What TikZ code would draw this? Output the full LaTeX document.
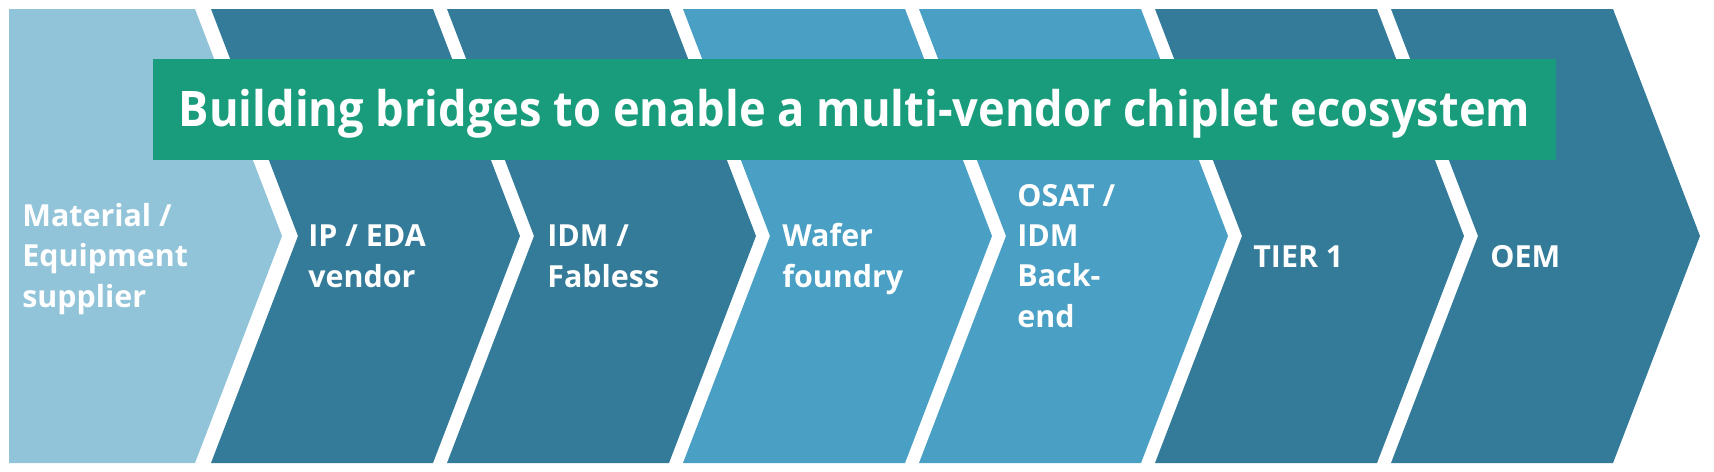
\documentclass[tikz,border=0pt]{standalone}
\usepackage{fontspec}
\setmainfont{Open Sans}
\newfontfamily\titlefont{Open Sans}[FakeStretch=0.922]
\definecolor{chainlight}{RGB}{146,196,217}
\definecolor{chaindark}{RGB}{51,123,153}
\definecolor{chainmid}{RGB}{73,159,196}
\definecolor{titlegreen}{RGB}{25,156,124}
\tikzset{
    steptext/.style={anchor=base west, align=left, text=white, inner sep=0pt,
        font=\fontsize{17.3}{22.8}\selectfont\bfseries},
    titlebox/.style={fill=titlegreen, text=white, minimum width=280.6mm, minimum height=20.2mm,
        text height=19.9pt, text depth=0pt, inner sep=0pt,
        font=\titlefont\fontsize{27.9}{33}\selectfont\bfseries}
}
\begin{document}
\begin{tikzpicture}[x=0.2mm,y=-0.2mm]
    \useasboundingbox (0,0) rectangle (1714,471);

    %Material / Equipment supplier
    \fill[chainlight] (9,9) -- (195,9) -- (282,236) -- (195,463) -- (9,463) -- cycle;
    \node[steptext] (material) at (22,307) {Material /\\Equipment\\supplier};

    %IP / EDA vendor
    \fill[chaindark] (211,9) -- (433,9) -- (520,236) -- (433,463) -- (211,463) -- (298,236) -- cycle;
    \node[steptext] (ipeda) at (308,287) {IP / EDA\\vendor};

    %IDM / Fabless
    \fill[chaindark] (447,9) -- (669,9) -- (756,236) -- (669,463) -- (447,463) -- (534,236) -- cycle;
    \node[steptext] (idm) at (547,287) {IDM /\\Fabless};

    %Wafer foundry
    \fill[chainmid] (683,9) -- (905,9) -- (992,236) -- (905,463) -- (683,463) -- (770,236) -- cycle;
    \node[steptext] (wafer) at (782,287) {Wafer\\foundry};

    %OSAT / IDM Back-end
    \fill[chainmid] (919,9) -- (1141,9) -- (1228,236) -- (1141,463) -- (919,463) -- (1006,236) -- cycle;
    \node[steptext] (osat) at (1017,327) {OSAT /\\IDM\\Back-\\end};

    %TIER 1
    \fill[chaindark] (1155,9) -- (1377,9) -- (1464,236) -- (1377,463) -- (1155,463) -- (1242,236) -- cycle;
    \node[steptext] (tier) at (1253,267) {TIER 1};

    %OEM
    \fill[chaindark] (1391,9) -- (1613,9) -- (1700,236) -- (1613,463) -- (1391,463) -- (1478,236) -- cycle;
    \node[steptext] (oem) at (1490,267) {OEM};

    \node[titlebox] (title) at (854.5,109.5) {Building bridges to enable a multi-vendor chiplet ecosystem};
\end{tikzpicture}
\end{document}
